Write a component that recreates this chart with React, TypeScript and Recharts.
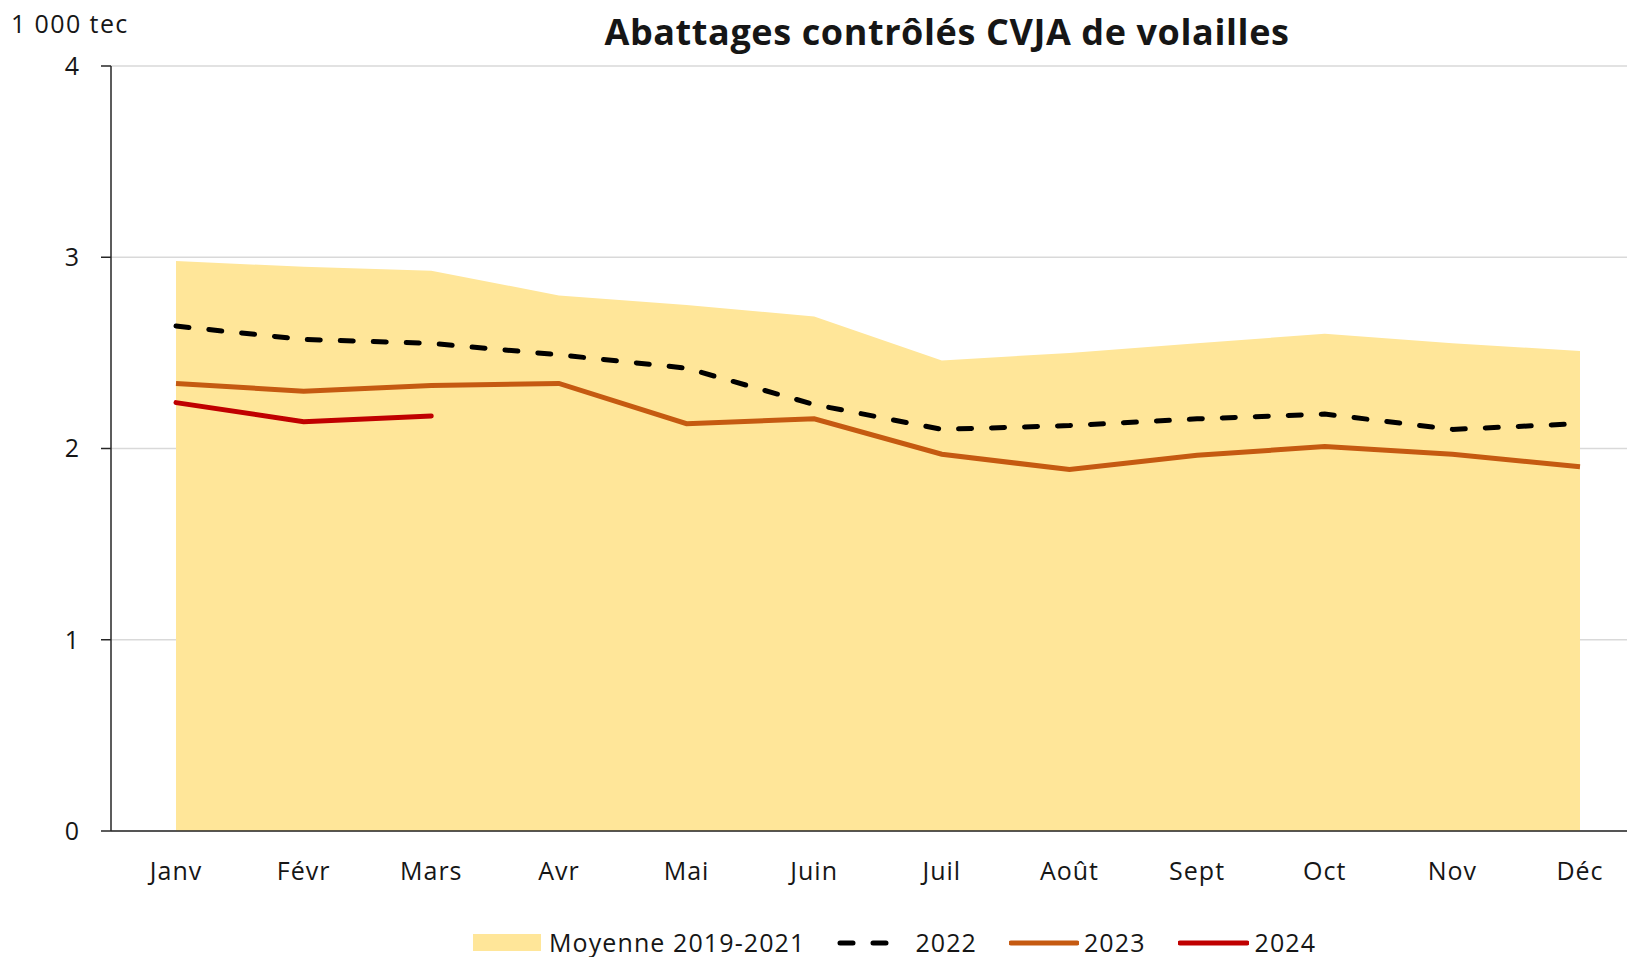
import {
  ComposedChart,
  Area,
  Line,
  XAxis,
  YAxis,
  CartesianGrid
} from "recharts";

const months = ["Janv", "Févr", "Mars", "Avr", "Mai", "Juin", "Juil", "Août", "Sept", "Oct", "Nov", "Déc"];
const moyenne = [2.98, 2.95, 2.93, 2.8, 2.75, 2.69, 2.46, 2.5, 2.55, 2.6, 2.55, 2.51];
const y2022 = [2.64, 2.57, 2.55, 2.49, 2.42, 2.23, 2.1, 2.12, 2.155, 2.18, 2.1, 2.13];
const y2023 = [2.34, 2.3, 2.33, 2.34, 2.13, 2.155, 1.97, 1.89, 1.965, 2.01, 1.97, 1.905];
const y2024 = [2.24, 2.14, 2.17, null, null, null, null, null, null, null, null, null];
const yTicks = [0, 1, 2, 3, 4];

const FONT = "'Open Sans', sans-serif";
const AREA_COLOR = "#FFE699";
const C2023 = "#C55A11";
const C2024 = "#C00000";

const data = months.map((m, i) => ({
  month: m,
  moyenne: moyenne[i],
  y2022: y2022[i],
  y2023: y2023[i],
  y2024: y2024[i]
}));

const tickStyle = { fontSize: 25, fill: "#161616", fontFamily: FONT, letterSpacing: 1 };

const LegendItem = ({ swatch, label, gap }: { swatch: React.ReactNode; label: string; gap: number }) => (
  <div style={{ display: "flex", alignItems: "center" }}>
    {swatch}
    <span style={{ marginLeft: gap }}>{label}</span>
  </div>
);

const App = () => {
  return (
    <div style={{ position: "absolute", left: 0, top: 0, width: 1627, height: 957, fontFamily: FONT, background: "#fff" }}>
      <ComposedChart
        width={1627}
        height={957}
        data={data}
        margin={{ top: 66, right: 0, left: 0, bottom: 0 }}
      >
        <CartesianGrid vertical={false} stroke="#D9D9D9" strokeWidth={1.5} />
        <XAxis
          dataKey="month"
          scale="point"
          padding={{ left: 65, right: 47 }}
          height={126}
          tickLine={false}
          tickSize={0}
          tickMargin={31}
          axisLine={{ stroke: "#262626", strokeWidth: 1.5 }}
          tick={tickStyle}
          interval={0}
        />
        <YAxis
          domain={[0, 4]}
          ticks={yTicks}
          width={111}
          tickSize={10}
          tickMargin={21}
          axisLine={{ stroke: "#262626", strokeWidth: 1.5 }}
          tickLine={{ stroke: "#262626", strokeWidth: 1.5 }}
          tick={tickStyle}
        />
        <Area
          type="linear"
          dataKey="moyenne"
          fill={AREA_COLOR}
          fillOpacity={1}
          stroke="none"
          isAnimationActive={false}
        />
        <Line
          type="linear"
          dataKey="y2022"
          stroke="#000"
          strokeWidth={5}
          strokeDasharray="13 20"
          strokeLinecap="round"
          dot={false}
          isAnimationActive={false}
        />
        <Line
          type="linear"
          dataKey="y2023"
          stroke={C2023}
          strokeWidth={5}
          dot={false}
          isAnimationActive={false}
        />
        <Line
          type="linear"
          dataKey="y2024"
          stroke={C2024}
          strokeWidth={5}
          strokeLinecap="round"
          dot={false}
          connectNulls={false}
          isAnimationActive={false}
        />
      </ComposedChart>

      <svg width={1627} height={60} style={{ position: "absolute", left: 0, top: 0, pointerEvents: "none" }}>
        <text x={11} y={33} fontSize={25} fill="#161616" fontFamily={FONT} letterSpacing={1.4}>1 000 tec</text>
        <text x={947} y={45} fontSize={36} fontWeight={700} fill="#161616" textAnchor="middle" fontFamily={FONT} letterSpacing={0.6}>
          Abattages contrôlés CVJA de volailles
        </text>
      </svg>

      <div
        style={{
          position: "absolute",
          left: 473,
          top: 930,
          height: 25,
          lineHeight: 1,
          fontSize: 25,
          letterSpacing: 1.1,
          color: "#161616",
          display: "flex",
          alignItems: "center",
          gap: 32
        }}
      >
        <LegendItem
          gap={8}
          label="Moyenne 2019-2021"
          swatch={<div style={{ width: 68, height: 17, background: AREA_COLOR }} />}
        />
        <LegendItem
          gap={24}
          label="2022"
          swatch={
            <svg width={54} height={10}>
              <line x1={3} y1={5} x2={51} y2={5} stroke="#000" strokeWidth={5} strokeDasharray="13 20" strokeLinecap="round" />
            </svg>
          }
        />
        <LegendItem
          gap={5}
          label="2023"
          swatch={
            <svg width={70} height={10}>
              <line x1={2} y1={5} x2={68} y2={5} stroke={C2023} strokeWidth={5} strokeLinecap="round" />
            </svg>
          }
        />
        <LegendItem
          gap={6}
          label="2024"
          swatch={
            <svg width={71} height={10}>
              <line x1={2} y1={5} x2={69} y2={5} stroke={C2024} strokeWidth={5} strokeLinecap="round" />
            </svg>
          }
        />
      </div>
    </div>
  );
};

export default App;
